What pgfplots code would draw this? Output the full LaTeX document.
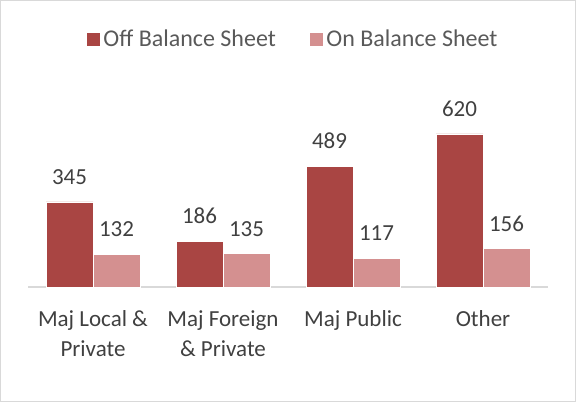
\documentclass[border=0pt]{standalone}
\usepackage{pgfplots}
\pgfplotsset{compat=1.18}
\usepackage{fontspec}
\setmainfont{Carlito}
\definecolor{darkred}{HTML}{A94543}
\definecolor{lightred}{HTML}{D49090}
\definecolor{lbl}{HTML}{404040}
\definecolor{leg}{HTML}{595959}
\definecolor{frame}{HTML}{D9D9D9}
\begin{document}
\begin{tikzpicture}[x=1pt,y=1pt]
\useasboundingbox (0,0) rectangle (576,402);
\draw[frame,line width=1pt] (0.5,0.5) rectangle (575.5,401.5);
\begin{axis}[
  at={(28pt,115pt)}, anchor=south west,
  scale only axis, width=520pt, height=172.8pt,
  xmin=-0.5, xmax=3.5, ymin=0, ymax=700,
  ybar=0pt, bar width=47pt,
  axis x line*=bottom, axis y line=none,
  x axis line style={frame, line width=1.5pt, -},
  xtick=data, xtick style={draw=none},
  xticklabels={{Maj Local \&\\Private},{Maj Foreign\\\& Private},{Maj Public},{Other}},
  xticklabel style={align=center, font=\fontsize{23}{30}\selectfont, text=lbl, yshift=-16pt},
  nodes near coords,
  /pgf/number format/assume math mode=true,
  every node near coord/.append style={font=\fontsize{23}{28}\selectfont, text=lbl, inner sep=0pt, anchor=south, yshift=17pt},
  legend columns=2,
  legend style={at={(0.510,1.435)}, anchor=center, draw=none, fill=none,
    font=\fontsize{24}{28}\selectfont, text=leg,
    nodes={inner xsep=3pt},
    /tikz/every even column/.append style={column sep=30pt}},
  legend image code/.code={\fill[#1] (0pt,-7pt) rectangle (14pt,7pt);},
]
\addplot[fill=darkred, draw=white, line width=0.6pt] coordinates {(0,345) (1,186) (2,489) (3,620)};
\addplot[fill=lightred, draw=white, line width=0.6pt] coordinates {(0,132) (1,135) (2,117) (3,156)};
\legend{Off Balance Sheet, On Balance Sheet}
\end{axis}
\end{tikzpicture}
\end{document}
